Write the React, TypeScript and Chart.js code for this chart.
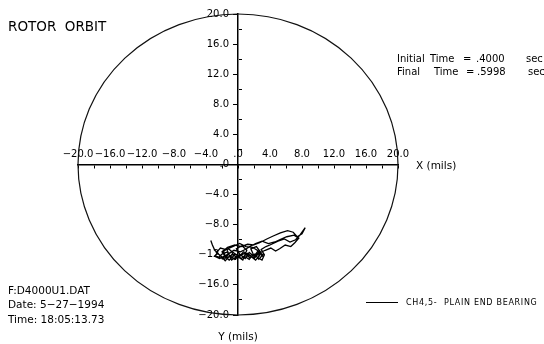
import React, { useEffect, useRef } from "react";
import { Chart, registerables } from "chart.js";

Chart.register(...registerables);

// ---- data ----
const X_TICKS_MAJOR = [-20, -16, -12, -8, -4, 0, 4, 8, 12, 16, 20];
const AXIS_MIN = -20;
const AXIS_MAX = 20;
const CLEARANCE_RADIUS = 20;

const ORBIT_X = [
  -3.4, -3.2, -2.9, -2.5, -2.9, -2.3, -1.6, -1.9, -1.2, -0.6, -1.0, -0.3, 0.2, -0.2, 0.5, 1.1, 0.8, 1.4, 1.9, 1.6,
  2.3, 2.8, 2.5, 3.0, 3.3, 2.9, 3.5, 4.2, 5.0, 5.8, 6.5, 7.2, 7.8, 8.4, 8.0, 7.4, 6.9, 6.2, 5.3, 4.4,
  3.6, 2.7, 1.9, 1.2, 0.4, -0.4, -1.3, -2.0, -1.4, -0.7, 0.0, 0.7, 1.3, 2.0, 2.6, 3.4, 4.1, 4.7, 5.2, 5.9,
  6.6, 7.1, 7.6, 7.0, 6.1, 5.4, 4.6, 3.8, 3.0, 2.2, 1.5, 0.9, 0.3, -0.5, -1.1, -1.7, -2.4, -2.0, -1.3, -0.8,
  -0.1, 0.6, 1.0, 1.7, 2.2, 2.7, 2.4, 1.8, 1.0, 0.2, -0.6, -1.5, -2.2, -2.7, -2.1, -1.6, -1.0, -0.4, 0.3, 0.9,
  1.4, 2.0, 2.5, 3.1, 2.6, 2.1, 1.5, 0.8, 0.1, -0.7, -1.4, -2.0, -1.7, -1.1, -0.3, 0.4, 1.2, 1.9, 2.6, 3.2,
];
const ORBIT_Y = [
  -10.1, -10.7, -11.4, -11.8, -12.2, -12.5, -12.1, -11.5, -11.2, -11.7, -12.3, -12.6, -11.9, -11.2, -10.8, -11.4, -12.2, -12.6, -11.9, -11.2,
  -10.9, -11.6, -12.4, -12.7, -12.0, -11.3, -10.9, -10.6, -10.2, -9.9, -10.3, -10.0, -9.3, -8.4, -9.2, -9.6, -9.0, -8.8, -9.1, -9.5,
  -9.9, -10.4, -10.7, -10.6, -10.9, -10.7, -11.0, -11.6, -12.4, -12.0, -12.4, -11.6, -12.0, -12.5, -11.8, -11.4, -11.1, -11.5, -11.2, -10.7,
  -10.9, -10.4, -9.8, -9.4, -9.6, -9.9, -10.3, -10.5, -10.2, -10.5, -10.9, -11.3, -11.6, -11.4, -11.8, -12.6, -12.3, -11.9, -11.6, -12.7,
  -12.2, -12.7, -11.8, -12.3, -12.7, -12.1, -11.4, -11.0, -10.9, -10.5, -10.9, -11.3, -11.1, -11.7, -12.2, -12.8, -12.1, -12.6, -12.0, -12.5,
  -11.7, -12.2, -11.5, -12.0, -12.6, -11.9, -12.4, -11.8, -12.3, -11.6, -12.0, -12.6, -12.2, -12.7, -11.9, -12.5, -11.8, -12.4, -11.7, -12.3,
];

const FONT = "DejaVu Sans";

const fmt = (v: number) => {
  if (v === 0) return ".0";
  return (v < 0 ? "\u2212" : "") + Math.abs(v).toFixed(1);
};

const circlePlugin = {
  id: "clearanceCircle",
  beforeDatasetsDraw(chart: any) {
    const { ctx, scales } = chart;
    const cx = scales.x.getPixelForValue(0);
    const cy = scales.y.getPixelForValue(0);
    const rx = scales.x.getPixelForValue(CLEARANCE_RADIUS) - cx;
    const ry = cy - scales.y.getPixelForValue(CLEARANCE_RADIUS);
    ctx.save();
    ctx.beginPath();
    ctx.ellipse(cx, cy, rx, ry, 0, 0, Math.PI * 2);
    ctx.strokeStyle = "#111";
    ctx.lineWidth = 1.2;
    ctx.stroke();
    ctx.restore();
  },
};

const textPlugin = {
  id: "texts",
  afterDraw(chart: any) {
    const ctx = chart.ctx;
    ctx.save();
    ctx.fillStyle = "#000";
    ctx.textBaseline = "middle";
    ctx.textAlign = "left";
    ctx.font = `13.5px "${FONT}"`;
    ctx.fillText("ROTOR  ORBIT", 8, 27);

    ctx.font = `10px "${FONT}"`;
    ctx.fillText("Initial", 397, 59);
    ctx.fillText("Time", 430, 59);
    ctx.fillText("=", 463, 59);
    ctx.fillText(".4000", 476, 59);
    ctx.fillText("sec", 526, 59);
    ctx.fillText("Final", 397, 72);
    ctx.fillText("Time", 434, 72);
    ctx.fillText("=", 466, 72);
    ctx.fillText(".5998", 477, 72);
    ctx.fillText("sec", 528, 72);

    ctx.font = `10.5px "${FONT}"`;
    ctx.fillText("X (mils)", 416, 166);
    ctx.textAlign = "center";
    ctx.fillText("Y (mils)", 238, 337);
    ctx.textAlign = "left";

    ctx.fillText("F:D4000U1.DAT", 8, 291);
    ctx.fillText("Date: 5\u221227\u22121994", 8, 305);
    ctx.fillText("Time: 18:05:13.73", 8, 320);

    // legend
    ctx.beginPath();
    ctx.moveTo(366, 302.5);
    ctx.lineTo(398, 302.5);
    ctx.strokeStyle = "#000";
    ctx.lineWidth = 1;
    ctx.stroke();
    ctx.font = `8px "${FONT}"`;
    (ctx as any).letterSpacing = "0.7px";
    ctx.fillText("CH4,5-  PLAIN END BEARING", 406, 303);
    ctx.restore();
  },
};

export default function App() {
  const ref = useRef<HTMLCanvasElement>(null);

  useEffect(() => {
    if (!ref.current) return;
    const points = ORBIT_X.map((x, i) => ({ x, y: ORBIT_Y[i] }));
    const tickFont = { family: FONT, size: 10 };
    const chart = new Chart(ref.current, {
      type: "scatter",
      data: {
        datasets: [
          {
            label: "CH4,5- PLAIN END BEARING",
            data: points,
            showLine: true,
            borderColor: "#000",
            backgroundColor: "#000",
            borderWidth: 1.3,
            pointRadius: 0,
            tension: 0,
            xAxisID: "x",
            yAxisID: "y",
          },
        ],
      },
      options: {
        responsive: false,
        animation: false,
        layout: { padding: { left: 78, right: 146, top: 14, bottom: 29 } },
        plugins: { legend: { display: false }, tooltip: { enabled: false }, title: { display: false } },
        scales: {
          x: {
            type: "linear",
            axis: "x",
            min: AXIS_MIN,
            max: AXIS_MAX,
            position: { y: 0 },
            border: { display: true, color: "#000", width: 1.5 },
            grid: { display: true, drawOnChartArea: false, drawTicks: true, tickLength: 3, color: "#000", tickColor: "#000" },
            ticks: { display: false, stepSize: 2 },
          },
          xLabels: {
            type: "linear",
            axis: "x",
            min: AXIS_MIN,
            max: AXIS_MAX,
            position: { y: 2.13 },
            border: { display: false },
            grid: { display: false, drawTicks: false },
            afterBuildTicks: (s: any) => {
              s.ticks = X_TICKS_MAJOR.map((v) => ({ value: v }));
            },
            ticks: {
              padding: 0,
              autoSkip: false,
              maxRotation: 0,
              minRotation: 0,
              color: "#000",
              font: tickFont,
              callback: (v: any) => fmt(Number(v)),
            },
          },
          y: {
            type: "linear",
            axis: "y",
            min: AXIS_MIN,
            max: AXIS_MAX,
            position: { x: 0 },
            border: { display: true, color: "#000", width: 1.5 },
            grid: {
              display: true,
              drawOnChartArea: false,
              drawTicks: true,
              tickLength: 4,
              tickColor: (c: any) => (c.tick && c.tick.value % 4 === 0 ? "#000" : "rgba(0,0,0,0)"),
            },
            ticks: { display: false, stepSize: 2 },
          },
          yMinor: {
            type: "linear",
            axis: "y",
            min: AXIS_MIN,
            max: AXIS_MAX,
            position: { x: 0.44 },
            border: { display: false },
            grid: {
              display: true,
              drawOnChartArea: false,
              drawTicks: true,
              tickLength: 3,
              tickColor: (c: any) => (c.tick && c.tick.value % 4 !== 0 ? "#000" : "rgba(0,0,0,0)"),
            },
            ticks: { display: false, stepSize: 2 },
          },
          yLabels: {
            type: "linear",
            axis: "y",
            min: AXIS_MIN,
            max: AXIS_MAX,
            position: { x: -1.125 },
            border: { display: false },
            grid: { display: false, drawTicks: false },
            ticks: {
              stepSize: 4,
              padding: 0,
              autoSkip: false,
              color: "#000",
              font: tickFont,
              callback: (v: any) => fmt(Number(v)),
            },
          },
        },
      },
      plugins: [circlePlugin, textPlugin],
    } as any);
    return () => chart.destroy();
  }, []);

  return (
    <div style={{ position: "fixed", left: 0, top: 0, width: 544, height: 344, background: "#fff" }}>
      <canvas ref={ref} width={544} height={344} style={{ width: 544, height: 344, display: "block" }} />
    </div>
  );
}
